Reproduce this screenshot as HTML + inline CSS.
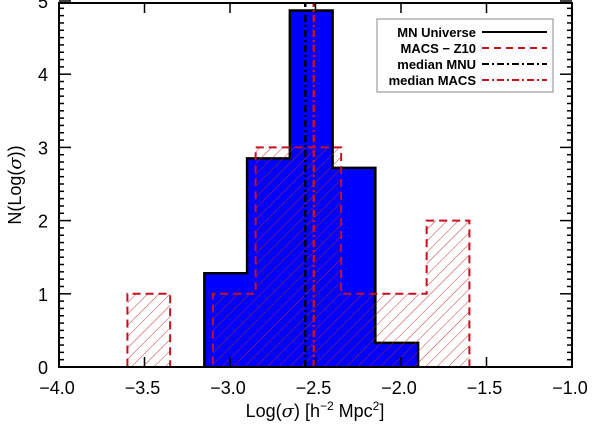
<!DOCTYPE html>
<html><head><meta charset="utf-8"><style>
body{margin:0;background:#fff}
svg text{font-family:"Liberation Sans","DejaVu Sans",sans-serif;fill:#000}
</style></head><body>
<svg id="chart" width="600" height="433" viewBox="0 0 600 433" xmlns="http://www.w3.org/2000/svg">
<defs>
<pattern id="hatch" patternUnits="userSpaceOnUse" width="8" height="8" patternTransform="rotate(45)">
<line x1="0" y1="0" x2="0" y2="8" stroke="#c0282a" stroke-width="0.9"/>
</pattern>
</defs>
<g id="plot"></g>
</svg>
<script>
const mnEdges = [-3.15, -2.90, -2.65, -2.40, -2.15, -1.90];
const mnCounts = [1.28, 2.85, 4.87, 2.72, 0.33];
const macsEdges = [-3.60, -3.35, -3.10, -2.85, -2.60, -2.35, -2.10, -1.85, -1.60];
const macsCounts = [1, 0, 1, 3, 3, 1, 1, 2];
const medianMNU = -2.56;
const medianMACS = -2.51;
const xTicks = [-4.0, -3.5, -3.0, -2.5, -2.0, -1.5, -1.0];
const xTickLabels = ["\u22124.0", "\u22123.5", "\u22123.0", "\u22122.5", "\u22122.0", "\u22121.5", "\u22121.0"];
const yTicks = [0, 1, 2, 3, 4, 5];

const L=59,R=572,T=3,B=367;
const xmin=-4,xmax=-1,ymin=0,ymax=5;
const X=v=>L+(v-xmin)/(xmax-xmin)*(R-L);
const Y=v=>B-(v-ymin)/(ymax-ymin)*(B-T+2);
const NS="http://www.w3.org/2000/svg";
const g=document.getElementById('plot');
function mk(tag,attrs,parent){const e=document.createElementNS(NS,tag);for(const k in attrs)e.setAttribute(k,attrs[k]);(parent||g).appendChild(e);return e;}
function stepPath(edges,counts){
  let d='M'+X(edges[0])+','+Y(0);
  for(let i=0;i<counts.length;i++){
    d+=' L'+X(edges[i])+','+Y(counts[i])+' L'+X(edges[i+1])+','+Y(counts[i]);
  }
  d+=' L'+X(edges[edges.length-1])+','+Y(0);
  return d;
}

// MN histogram
const mnFill=mk('path',{d:stepPath(mnEdges,mnCounts)+' Z',fill:'#0000ff',stroke:'none'});


const mnLine=mk('path',{d:stepPath(mnEdges,mnCounts),fill:'none',stroke:'#000','stroke-width':2.5});



// MACS histogram
const mcFill=mk('path',{d:stepPath(macsEdges,macsCounts)+' Z',fill:'url(#hatch)',stroke:'none'});


const mcLine=mk('path',{d:'M'+X(-3.75)+','+Y(0)+' '+stepPath(macsEdges,macsCounts).replace('M','L')+' L'+X(-1.45)+','+Y(0),fill:'none',stroke:'#c8101e','stroke-width':2,'stroke-dasharray':'8,5'});



// medians
const m1=mk('line',{x1:X(medianMNU),x2:X(medianMNU),y1:B,y2:T,stroke:'#000','stroke-width':2.5,'stroke-dasharray':'7,3,2,3'});


const m2=mk('line',{x1:X(medianMACS),x2:X(medianMACS),y1:B,y2:T,stroke:'#c8101e','stroke-width':2.5,'stroke-dasharray':'7,3,2,3'});



// frame
const fr=mk('rect',{x:L,y:T,width:R-L,height:B-T,fill:'none',stroke:'#000','stroke-width':2});



// x ticks
xTicks.forEach((v,i)=>{
  mk('line',{x1:X(v),x2:X(v),y1:B,y2:B-10,stroke:'#000','stroke-width':1.5});
  mk('line',{x1:X(v),x2:X(v),y1:T,y2:T+10,stroke:'#000','stroke-width':1.5});
  const t=mk('text',{x:X(v)-2,y:B+27,'text-anchor':'middle','font-size':18});
  t.textContent=xTickLabels[i];
  
  
});
// y ticks
for(let v=0;v<=ymax+1e-9;v+=0.1){
  const major=Math.abs(v-Math.round(v))<1e-6;
  const len=major?12:5;
  mk('line',{x1:L,x2:L+len,y1:Y(v),y2:Y(v),stroke:'#000','stroke-width':1.5});
  mk('line',{x1:R,x2:R-len,y1:Y(v),y2:Y(v),stroke:'#000','stroke-width':1.5});
}
yTicks.forEach(v=>{
  const t=mk('text',{x:L-11,y:Y(v)+7,'text-anchor':'end','font-size':18});
  t.textContent=String(v);
  
  
});

// axis titles
const xt=mk('text',{x:315,y:417,'text-anchor':'middle','font-size':18});
xt.innerHTML='Log(<tspan font-style="italic" font-family="DejaVu Serif">σ</tspan>) [h<tspan dy="-7" font-size="12">−2</tspan><tspan dy="7"> Mpc</tspan><tspan dy="-7" font-size="12">2</tspan><tspan dy="7">]</tspan>';


const yt=mk('text',{x:0,y:0,'text-anchor':'middle','font-size':18,transform:'translate(21,185) rotate(-90)'});
yt.innerHTML='N(Log(<tspan font-style="italic" font-family="DejaVu Serif">σ</tspan>))';



// legend
const lg=mk('g',{});


mk('rect',{x:377,y:19,width:176,height:73,fill:'#fff',stroke:'#888','stroke-width':1},lg);
const entries=[['MN Universe','#000','none'],['MACS − Z10','#c8101e','7,5'],['median MNU','#000','7,3,2,3'],['median MACS','#c8101e','7,3,2,3']];
entries.forEach((e,i)=>{
  const y=32+i*16;
  const t=mk('text',{x:476,y:y+5,'text-anchor':'end','font-size':13,'font-weight':'bold'},lg);
  t.textContent=e[0];
  
  
  const a={x1:482,x2:547,y1:y,y2:y,stroke:e[1],'stroke-width':2};
  if(e[2]!=='none')a['stroke-dasharray']=e[2];
  mk('line',a,lg);
});
</script>
</body></html>
